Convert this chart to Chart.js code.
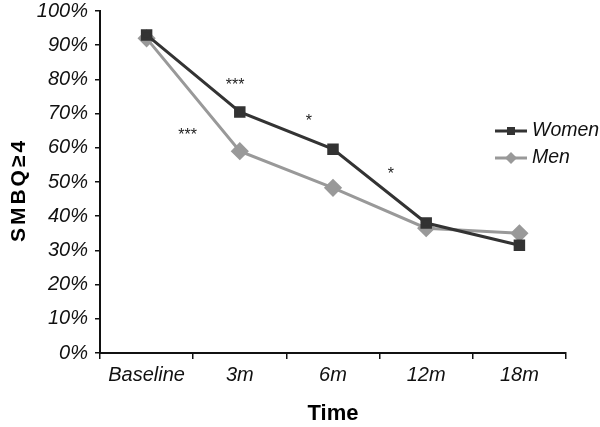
<!DOCTYPE html>
<html>
<head>
<meta charset="utf-8">
<script src="https://cdn.jsdelivr.net/npm/chart.js@4"></script>
<style>
  body { margin: 0; background: #fff; }
  #wrap { width: 600px; height: 427px; }
</style>
</head>
<body>
<div id="wrap"><canvas id="myChart" width="600" height="427"></canvas></div>
<script>
const timeLabels = ['Baseline', '3m', '6m', '12m', '18m'];
const womenValues = [93, 70.5, 59.6, 38, 31.5];
const menValues = [92, 59, 48.3, 36.5, 35];
const yTicks = [0, 10, 20, 30, 40, 50, 60, 70, 80, 90, 100];

// significance marks: [x position in category units, y value, text]
const sigMarks = [
  [0.95, 79, '***'],
  [0.44, 64.5, '***'],
  [1.74, 68.5, '*'],
  [2.62, 53, '*']
];

const FONT = '"Liberation Sans", Arial, sans-serif';

const extras = {
  id: 'extras',
  afterDatasetsDraw(chart) {
    const ctx = chart.ctx;
    const xs = chart.scales.x;
    const ys = chart.scales.y;
    ctx.save();
    ctx.fillStyle = '#222';
    ctx.font = '16px ' + FONT;
    ctx.textAlign = 'center';
    ctx.textBaseline = 'middle';
    const step = xs.getPixelForValue(1) - xs.getPixelForValue(0);
    sigMarks.forEach((m) => {
      const px = xs.getPixelForValue(0) + m[0] * step;
      ctx.fillText(m[2], px, ys.getPixelForValue(m[1]) + 3);
    });

    // legend
    const items = chart.data.datasets;
    const lx = 511, ly = 131;
    items.forEach((ds, i) => {
      const y = ly + i * 27;
      ctx.strokeStyle = ds.borderColor;
      ctx.lineWidth = 3;
      ctx.beginPath();
      ctx.moveTo(lx - 16, y);
      ctx.lineTo(lx + 16, y);
      ctx.stroke();
      ctx.fillStyle = ds.backgroundColor;
      ctx.beginPath();
      if (ds.pointStyle === 'rect') {
        ctx.rect(lx - 4, y - 4, 8, 8);
      } else {
        ctx.moveTo(lx, y - 6); ctx.lineTo(lx + 6, y); ctx.lineTo(lx, y + 6); ctx.lineTo(lx - 6, y); ctx.closePath();
      }
      ctx.fill();
      ctx.fillStyle = '#111';
      ctx.font = 'italic 19.5px ' + FONT;
      ctx.textAlign = 'left';
      ctx.fillText(ds.label, 532, y);
    });

    // y axis title
    ctx.translate(19, 190);
    ctx.rotate(-Math.PI / 2);
    ctx.fillStyle = '#000';
    ctx.font = 'bold 21px ' + FONT;
    ctx.letterSpacing = '3px';
    ctx.textAlign = 'center';
    ctx.fillText('SMBQ≥4', 0, 0);
    ctx.restore();
  }
};

new Chart(document.getElementById('myChart').getContext('2d'), {
  type: 'line',
  data: {
    labels: timeLabels,
    datasets: [{
      label: 'Women',
      data: womenValues,
      borderColor: '#333333',
      backgroundColor: '#333333',
      borderWidth: 3,
      pointStyle: 'rect',
      pointRadius: 6,
      pointHoverRadius: 6,
      tension: 0
    }, {
      label: 'Men',
      data: menValues,
      borderColor: '#999999',
      backgroundColor: '#999999',
      borderWidth: 3,
      pointStyle: 'rectRot',
      pointRadius: 7,
      pointHoverRadius: 7,
      tension: 0
    }]
  },
  options: {
    responsive: false,
    animation: false,
    layout: { padding: { top: 11, right: 34, left: 0, bottom: 0 } },
    plugins: { legend: { display: false }, tooltip: { enabled: false } },
    scales: {
      x: {
        offset: true,
        grid: { offset: true, drawOnChartArea: false, tickLength: 6, color: '#111', lineWidth: 1.5 },
        border: { color: '#111', width: 2 },
        ticks: { color: '#111', font: { family: FONT, size: 20, style: 'italic' }, padding: 4, maxRotation: 0 },
        title: { display: true, text: 'Time', color: '#000', font: { family: FONT, size: 22, weight: 'bold' }, padding: { top: 6, bottom: 0 } },
        afterFit: (s) => { s.height = 74; s.paddingLeft = 0; s.paddingRight = 0; }
      },
      y: {
        min: 0,
        max: 100,
        afterBuildTicks: (s) => { s.ticks = yTicks.map((v) => ({ value: v })); },
        grid: { drawOnChartArea: false, tickLength: 5, color: '#111', lineWidth: 1.5 },
        border: { color: '#111', width: 2 },
        ticks: { color: '#111', font: { family: FONT, size: 20, style: 'italic' }, padding: 7, callback: (v) => v + '%' },
        afterFit: (s) => { s.width = 100; s.paddingTop = 0; s.paddingBottom = 0; }
      }
    }
  },
  plugins: [extras]
});
</script>
</body>
</html>
